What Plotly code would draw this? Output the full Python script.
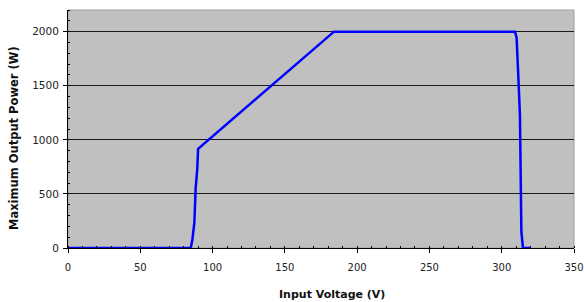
import plotly.graph_objects as go

voltage = [0, 84.9, 86.0, 87.4, 88.3, 89.4, 90.0, 184.0, 309.2, 310.3, 311.5, 312.6, 313.6, 314.7, 319.6]
power = [0, 0, 74, 234, 553, 729, 917, 2000, 2000, 1944, 1583, 1231, 151, 0, 0]
x_ticks = [0, 50, 100, 150, 200, 250, 300, 350]
y_ticks = [0, 500, 1000, 1500, 2000]

fig = go.Figure()
fig.add_trace(go.Scatter(x=voltage, y=power, mode="lines",
                         line=dict(color="#0000ff", width=2.5), showlegend=False))

font = dict(family="DejaVu Sans, sans-serif", size=10, color="#222222")
fig.update_layout(
    width=584, height=302,
    margin=dict(l=68, r=10, t=10, b=54, autoexpand=False),
    paper_bgcolor="white", plot_bgcolor="#c0c0c0",
    font=font,
    xaxis=dict(range=[0, 350], tickvals=x_ticks, ticks="outside", ticklen=4, tickcolor="#000",
               showgrid=False, zeroline=False, showline=True, linecolor="#000", linewidth=1,
               minor=dict(dtick=10, ticks="inside", ticklen=2, tickcolor="#000"),
               automargin=False, ticklabelstandoff=6, ticklabeloverflow="allow"),
    yaxis=dict(range=[0, 2200], tickvals=y_ticks, ticks="outside", ticklen=4, tickcolor="#000",
               showgrid=True, gridcolor="#1a1a1a", gridwidth=1, zeroline=False,
               showline=True, linecolor="#000", linewidth=1,
               tickfont=dict(size=10.5),
               minor=dict(dtick=100, ticks="inside", ticklen=2, tickcolor="#000", showgrid=False),
               automargin=False, ticklabelstandoff=2),
    annotations=[
        dict(text="<b>Input Voltage (V)</b>", xref="paper", yref="paper", x=(332 - 68) / 506, y=-46 / 238,
             xanchor="center", yanchor="middle", showarrow=False,
             font=dict(family="DejaVu Sans, sans-serif", size=11, color="#111")),
        dict(text="<b>Maximum Output Power (W)</b>", xref="paper", yref="paper", x=(14 - 68) / 506,
             y=(248 - 138) / 238, xanchor="center", yanchor="middle", showarrow=False, textangle=-90,
             font=dict(family="DejaVu Sans, sans-serif", size=11.5, color="#111")),
    ],
)
fig.add_shape(type="rect", xref="paper", yref="paper", x0=0, y0=0, x1=1, y1=1,
              line=dict(color="#a0a0a0", width=1), layer="below")
fig.write_html("out.html", config={"displayModeBar": False},
               post_script="document.body.style.margin='0px';document.body.style.overflow='hidden';")
